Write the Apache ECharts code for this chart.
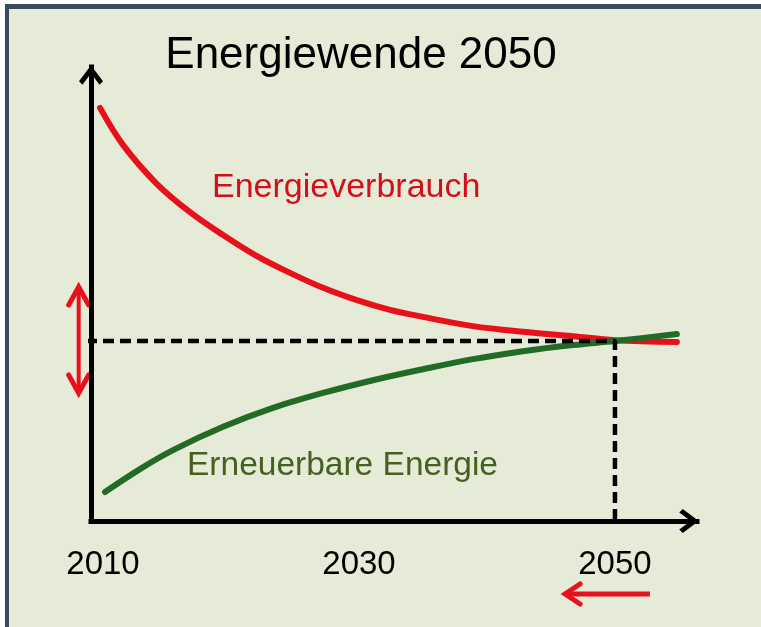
<!DOCTYPE html>
<html><head><meta charset="utf-8">
<script src="https://cdn.jsdelivr.net/npm/echarts@6/dist/echarts.min.js"></script>
<style>
html,body{margin:0;padding:0;background:#fff;}
#wrap{position:relative;width:761px;height:627px;overflow:hidden;}
#bg{position:absolute;left:5px;top:4px;right:0;bottom:0;background:#e6ebd8;border-left:4px solid #3b4b5e;border-top:5px solid #3b4b5e;}
#chart{position:absolute;left:0;top:0;width:761px;height:627px;}
</style></head>
<body><div id="wrap"><div id="bg"></div><div id="chart"></div></div>
<script>
// ---- data ----
const titleText = 'Energiewende 2050';
const xTickLabels = [2010, 2030, 2050];
const redName = 'Energieverbrauch';
const greenName = 'Erneuerbare Energie';
const redYears  = [2009.77, 2011.56, 2014.22, 2016.80, 2019.38, 2022.03, 2024.61, 2027.19, 2029.84, 2032.42, 2035.00, 2038.91, 2042.81, 2046.72, 2050.00, 2054.84];
const redValues = [93.9, 85.5, 76.6, 70.2, 65.0, 60.2, 56.4, 53.0, 50.2, 48.0, 46.4, 44.3, 43.0, 42.0, 41.1, 40.7];
const greenYears  = [2010.16, 2012.89, 2015.47, 2019.38, 2023.28, 2027.19, 2031.09, 2035.00, 2038.91, 2042.81, 2046.72, 2050.00, 2054.84];
const greenValues = [6.6, 11.8, 16.1, 21.4, 25.7, 29.1, 32.0, 34.5, 36.8, 38.6, 40.0, 40.9, 42.5];
const targetYear = 2050;
const targetLevel = 40.9;
const dashStartYear = 2008.67;
const gapRange = [29.1, 53.2];
const gapArrowYear = 2008.1;
const backArrowYears = [2052.73, 2046.1];

// ---- chart ----
const FONT = '"Liberation Sans", Arial, sans-serif';
const chart = echarts.init(document.getElementById('chart'), null, {renderer: 'canvas'});
const chevron = 'path://M12,0 L24,16 L20.5,19.5 L12,8 L3.5,19.5 L0,16 Z';

const zip = (xs, ys) => xs.map((x, i) => [x, ys[i]]);

chart.setOption({
  backgroundColor: 'transparent',
  animation: false,
  grid: {left: 91, right: 64, top: 67, bottom: 106, containLabel: false},
  xAxis: {
    type: 'value', min: 2009.0625, max: 2056.41,
    axisLine: {show: true, symbol: ['none', chevron], symbolSize: [24, 22], symbolOffset: [0, -8],
      lineStyle: {color: '#000', width: 5, cap: 'square'}},
    axisTick: {show: false}, splitLine: {show: false},
    axisLabel: {customValues: xTickLabels, color: '#000', fontSize: 33, fontFamily: FONT, margin: 27,
      formatter: v => String(Math.round(v))}
  },
  yAxis: {
    type: 'value', min: 0, max: 103.2,
    axisLine: {show: true, symbol: ['none', chevron], symbolSize: [24, 22], symbolOffset: [0, -8],
      lineStyle: {color: '#000', width: 5, cap: 'square'}},
    axisTick: {show: false}, splitLine: {show: false}, axisLabel: {show: false}
  },
  series: [
    {name: redName, type: 'line', data: zip(redYears, redValues), smooth: 0.35, showSymbol: false,
      lineStyle: {color: '#e8101a', width: 6, cap: 'round'}, z: 3},
    {name: greenName, type: 'line', data: zip(greenYears, greenValues), smooth: 0.35, showSymbol: false,
      lineStyle: {color: '#226b27', width: 6, cap: 'round'}, z: 3},
    {name: 'target', type: 'line', clip: false, showSymbol: false, z: 4,
      data: [[dashStartYear, targetLevel], [targetYear, targetLevel], [targetYear, 0]],
      lineStyle: {color: '#000', width: 4.5, type: [11, 6]}}
  ]
});

const px = (x, y) => chart.convertToPixel({gridIndex: 0}, [x, y]);
const gTop = px(gapArrowYear, gapRange[1]);
const gBot = px(gapArrowYear, gapRange[0]);
const bStart = px(backArrowYears[0], 0);
const bEnd = px(backArrowYears[1], 0);
const arrowY = 594;
const red = '#e8101a';

chart.setOption({
  graphic: [
    {type: 'text', x: 361, y: 56, style: {text: titleText, font: '44px ' + FONT, fill: '#000', textAlign: 'center', textVerticalAlign: 'middle'}},
    {type: 'text', x: 212, y: 188, style: {text: redName, font: '34px ' + FONT, fill: '#d40f1a', textAlign: 'left', textVerticalAlign: 'middle'}},
    {type: 'text', x: 187, y: 466, style: {text: greenName, font: '33.5px ' + FONT, fill: '#46601f', textAlign: 'left', textVerticalAlign: 'middle'}},
    // gap double arrow
    {type: 'polyline', shape: {points: [[gTop[0], gTop[1] + 2], [gBot[0], gBot[1] - 2]]}, style: {stroke: red, lineWidth: 4, fill: null}},
    {type: 'polyline', shape: {points: [[gTop[0] - 10, gTop[1] + 18], [gTop[0], gTop[1]], [gTop[0] + 10, gTop[1] + 18]]}, style: {stroke: red, lineWidth: 5, fill: null, lineCap: 'round', lineJoin: 'miter'}},
    {type: 'polyline', shape: {points: [[gBot[0] - 10, gBot[1] - 18], [gBot[0], gBot[1]], [gBot[0] + 10, gBot[1] - 18]]}, style: {stroke: red, lineWidth: 5, fill: null, lineCap: 'round', lineJoin: 'miter'}},
    // backwards arrow
    {type: 'polyline', shape: {points: [[bStart[0], arrowY], [bEnd[0] + 2, arrowY]]}, style: {stroke: red, lineWidth: 5, fill: null}},
    {type: 'polyline', shape: {points: [[bEnd[0] + 15, arrowY - 10], [bEnd[0], arrowY], [bEnd[0] + 15, arrowY + 10]]}, style: {stroke: red, lineWidth: 5, fill: null, lineCap: 'round', lineJoin: 'miter'}}
  ]
});
</script>
</body></html>
